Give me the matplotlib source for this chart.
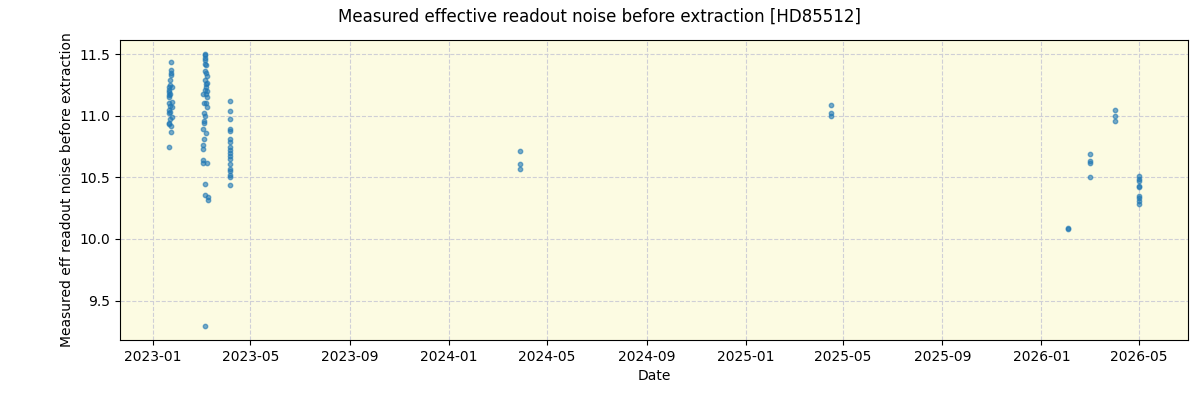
import matplotlib
matplotlib.use("Agg")
import matplotlib.pyplot as plt
import matplotlib.dates as mdates
import pandas as pd

# Fechas de observacion y ruido medido
dates_c1 = ["2023-01-20", "2023-01-21", "2023-01-22", "2023-01-23", "2023-01-24"]
noise_c1 = [
    [11.02, 10.75, 11.10, 11.17, 10.94],
    [11.23, 11.19, 11.21, 11.05, 10.93, 11.15],
    [11.29, 11.25, 11.08, 10.97, 11.18, 11.03],
    [11.44, 11.37, 11.35, 11.33, 10.92, 10.87],
    [11.23, 11.07, 10.99, 11.11],
]
dates_c2 = ["2023-03-04", "2023-03-05", "2023-03-06", "2023-03-07", "2023-03-08", "2023-03-10"]
noise_c2 = [
    [10.76, 10.73, 10.64, 10.62, 10.89, 11.18],
    [11.10, 11.02, 10.96, 10.94, 10.81],
    [11.50, 11.49, 11.47, 11.45, 11.42, 11.36, 11.29, 11.21, 11.00, 10.45, 10.36, 9.29],
    [11.41, 11.35, 11.26, 11.23, 11.18, 11.10, 10.86],
    [11.32, 11.27, 11.20, 11.15, 11.07, 10.62],
    [10.34, 10.32],
]
dates_c3 = ["2023-04-06"]
noise_c3 = [[11.12, 11.04, 10.97, 10.89, 10.88, 10.81, 10.79, 10.75, 10.72, 10.70,
             10.67, 10.65, 10.61, 10.57, 10.55, 10.52, 10.50, 10.44]]
dates_late = ["2024-03-29", "2025-04-17", "2026-02-03", "2026-03-02", "2026-04-02", "2026-05-01"]
noise_late = [
    [10.71, 10.61, 10.57],
    [11.09, 11.02, 11.00],
    [10.09, 10.08],
    [10.69, 10.63, 10.62, 10.50],
    [11.05, 11.00, 10.96],
    [10.51, 10.49, 10.47, 10.43, 10.42, 10.35, 10.33, 10.31, 10.28],
]

fechas = []
valores = []
for ds, vs in [(dates_c1, noise_c1), (dates_c2, noise_c2), (dates_c3, noise_c3), (dates_late, noise_late)]:
    for d, v in zip(ds, vs):
        for val in v:
            fechas.append(pd.Timestamp(d))
            valores.append(val)

fig = plt.figure(figsize=(12, 4), dpi=100)
ax = fig.add_axes([0.1, 0.15, 0.89, 0.75])
ax.set_facecolor("#fcfbe2")
ax.scatter(fechas, valores, s=10, color="tab:blue", alpha=0.6, zorder=3)
ax.grid(True, linestyle="--", color="#cfcfd6", linewidth=0.8)
ax.set_axisbelow(True)

ax.set_xlim(pd.Timestamp("2022-11-21"), pd.Timestamp("2026-07-01"))
ax.set_ylim(9.18, 11.615)
ax.xaxis.set_major_locator(mdates.MonthLocator(bymonth=[1, 5, 9]))
ax.xaxis.set_major_formatter(mdates.DateFormatter("%Y-%m"))

ax.set_xlabel("Date")
ax.set_ylabel("Measured eff readout noise before extraction")
fig.suptitle("Measured effective readout noise before extraction [HD85512]", fontsize=12)

fig.savefig("out.png")
